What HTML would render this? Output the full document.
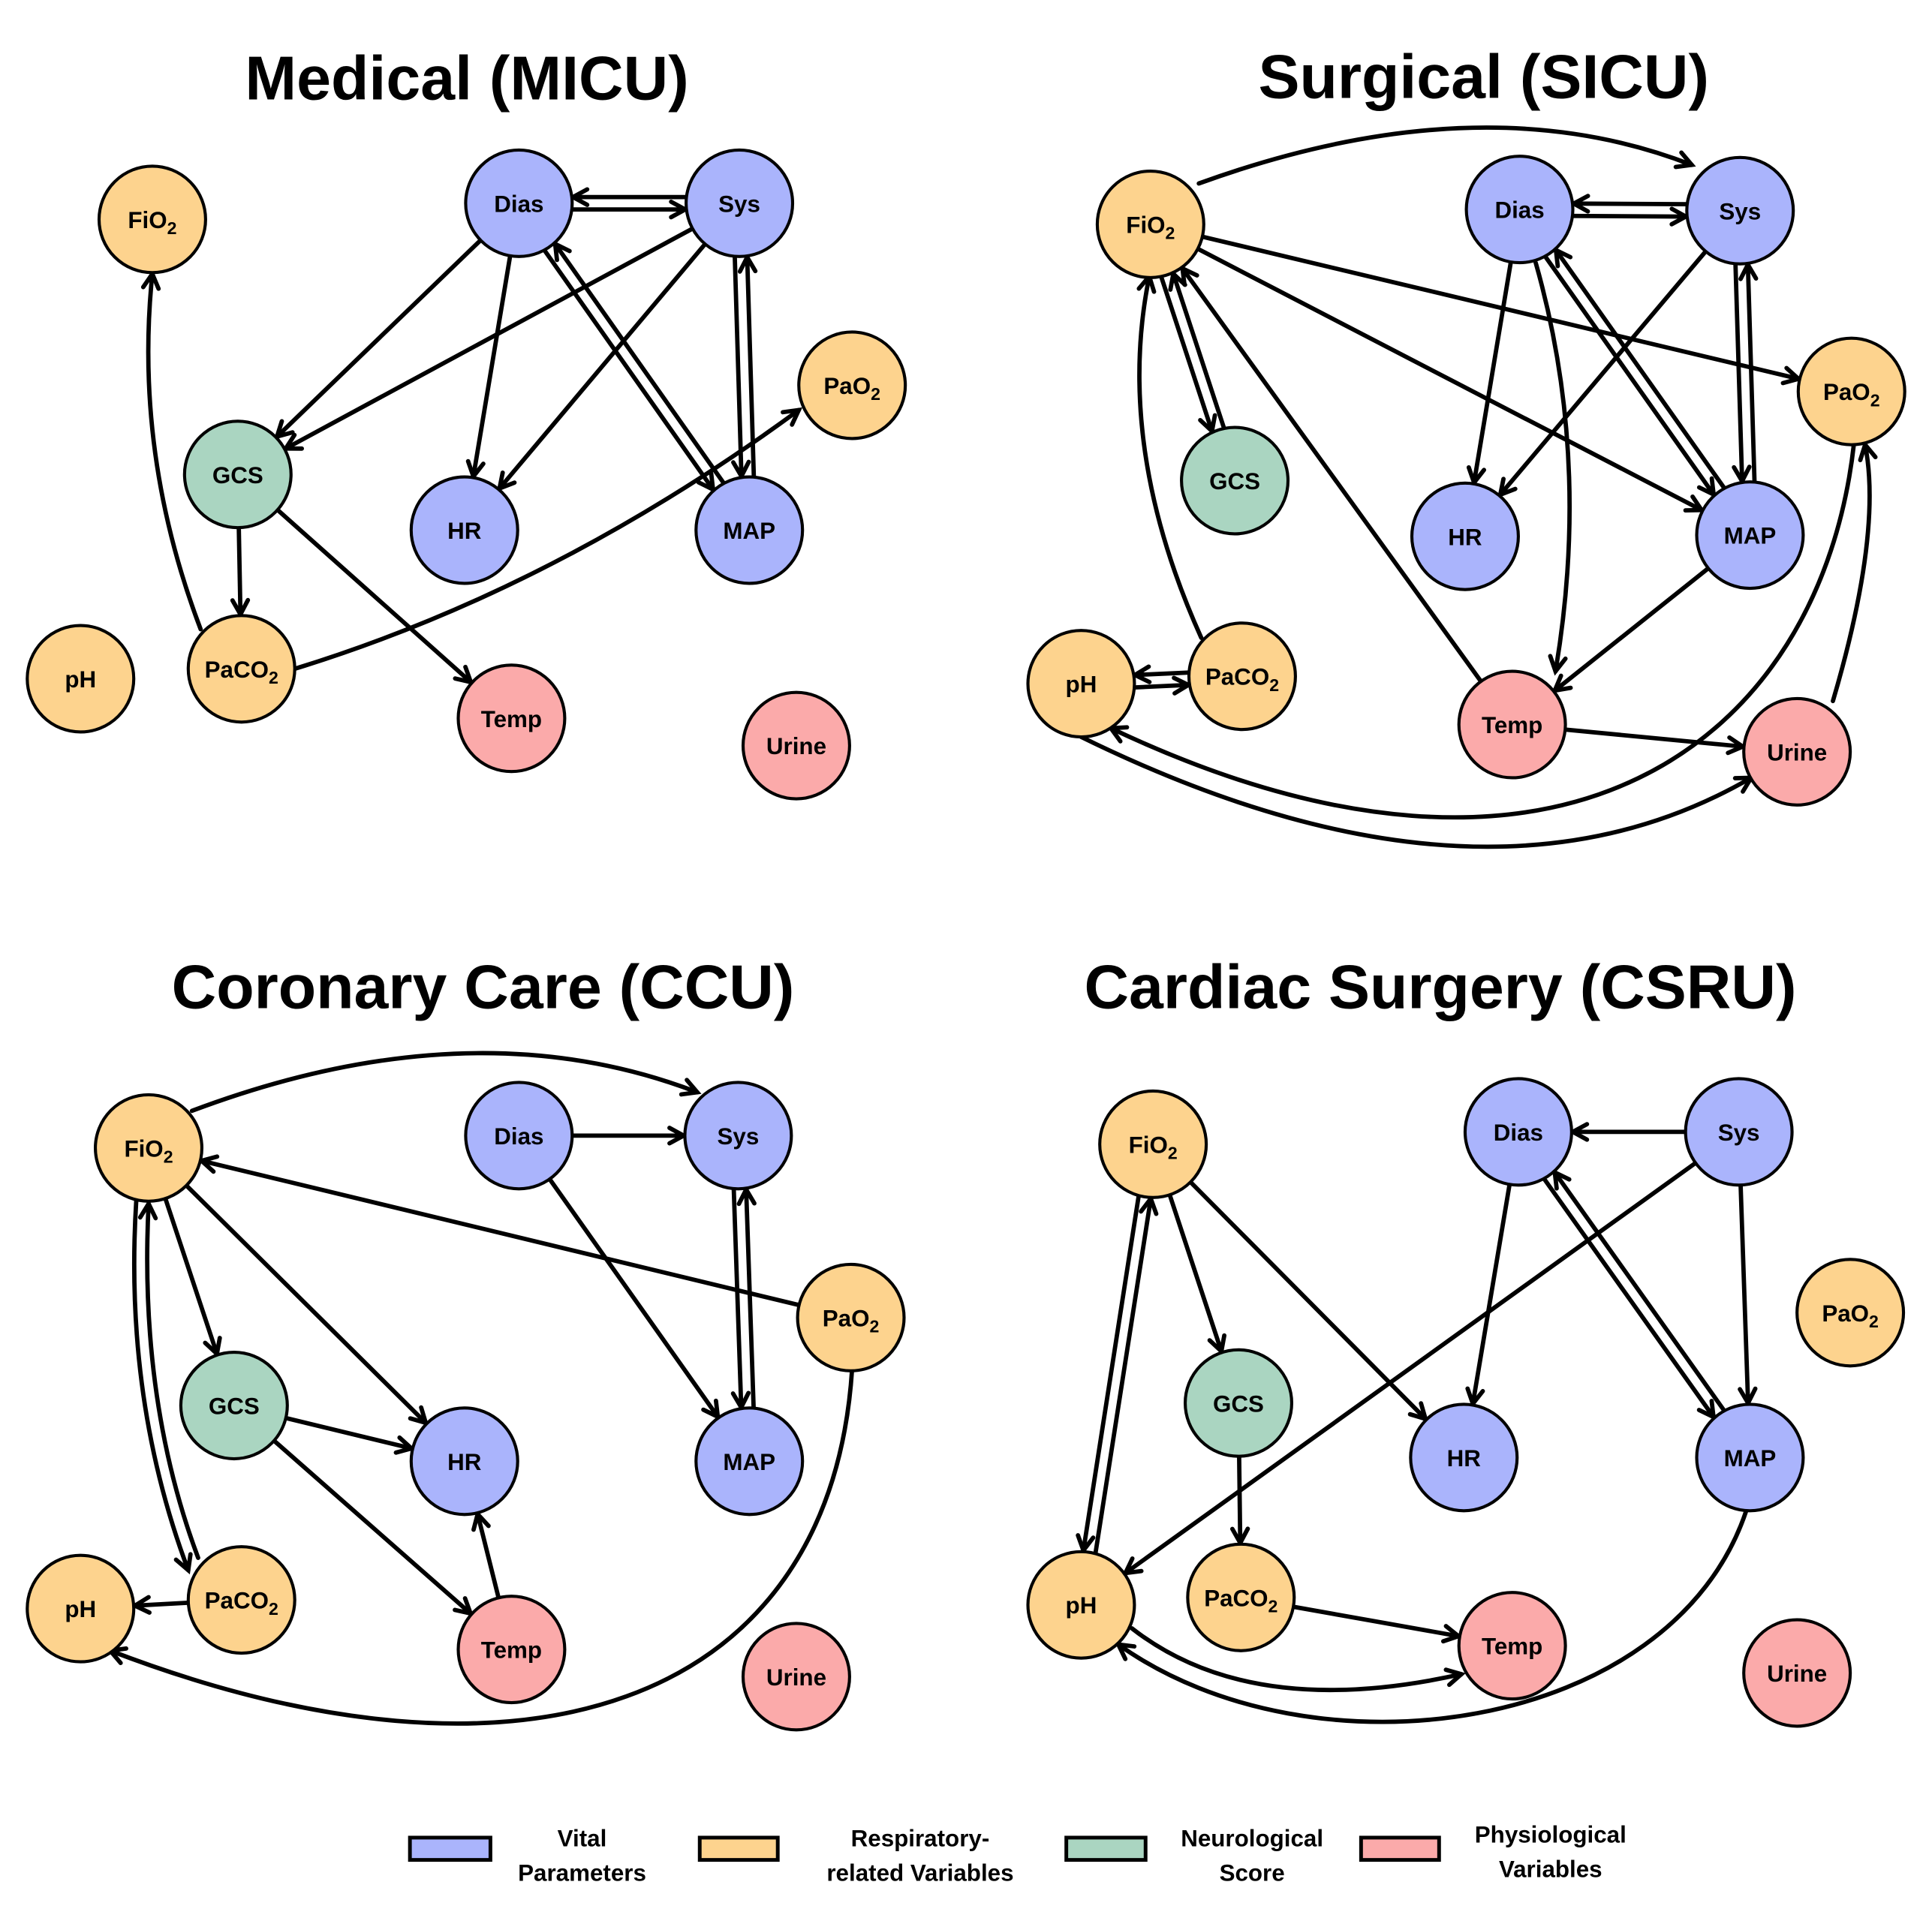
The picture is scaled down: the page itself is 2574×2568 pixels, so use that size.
<!DOCTYPE html>
<html><head><meta charset="utf-8"><style>
html,body{margin:0;padding:0;background:#fff;}
svg{display:block;}
text{font-family:"Liberation Sans",sans-serif;font-weight:bold;fill:#000;}
</style></head><body>
<svg id="s" width="2574" height="2568" viewBox="0 0 1560 1556" xmlns="http://www.w3.org/2000/svg">
<rect width="1560" height="1556" fill="#fff"/>
<g id="edges" stroke="#000" stroke-width="3.5" fill="none" stroke-linecap="round"></g>
<g id="nodes"></g>
<g font-size="50">
<text x="377" y="80" text-anchor="middle">Medical (MICU)</text>
<text x="1198" y="79" text-anchor="middle">Surgical (SICU)</text>
<text x="390" y="814" text-anchor="middle">Coronary Care (CCU)</text>
<text x="1163" y="814" text-anchor="middle">Cardiac Surgery (CSRU)</text>
</g>
<g stroke="#000" stroke-width="3">
<rect x="331" y="1484" width="65" height="18" fill="#aab4fc"/>
<rect x="565" y="1484" width="63" height="18" fill="#fdd38e"/>
<rect x="861" y="1484" width="64" height="18" fill="#aad5c1"/>
<rect x="1099" y="1484" width="63" height="18" fill="#fbaaaa"/>
</g>
<g font-size="19" text-anchor="middle">
<text x="470" y="1491">Vital</text><text x="470" y="1519">Parameters</text>
<text x="743" y="1491">Respiratory-</text><text x="743" y="1519">related Variables</text>
<text x="1011" y="1491">Neurological</text><text x="1011" y="1519">Score</text>
<text x="1252" y="1488">Physiological</text><text x="1252" y="1516">Variables</text>
</g>
</svg>
<script>
var NS="http://www.w3.org/2000/svg",R=43;
var C={b:"#aab4fc",o:"#fdd38e",g:"#aad5c1",p:"#fbaaaa"};
var G=[
 {FiO2:[123,177,'o'],Dias:[419,164,'b'],Sys:[597,164,'b'],PaO2:[688,311,'o'],GCS:[192,383,'g'],HR:[375,428,'b'],MAP:[605,428,'b'],pH:[65,548,'o'],PaCO2:[195,540,'o'],Temp:[413,580,'p'],Urine:[643,602,'p']},
 {FiO2:[929,181,'o'],Dias:[1227,169,'b'],Sys:[1405,170,'b'],PaO2:[1495,316,'o'],GCS:[997,388,'g'],HR:[1183,433,'b'],MAP:[1413,432,'b'],pH:[873,552,'o'],PaCO2:[1003,546,'o'],Temp:[1221,585,'p'],Urine:[1451,607,'p']},
 {FiO2:[120,927,'o'],Dias:[419,917,'b'],Sys:[596,917,'b'],PaO2:[687,1064,'o'],GCS:[189,1135,'g'],HR:[375,1180,'b'],MAP:[605,1180,'b'],pH:[65,1299,'o'],PaCO2:[195,1292,'o'],Temp:[413,1332,'p'],Urine:[643,1354,'p']},
 {FiO2:[931,924,'o'],Dias:[1226,914,'b'],Sys:[1404,914,'b'],PaO2:[1494,1060,'o'],GCS:[1000,1133,'g'],HR:[1182,1177,'b'],MAP:[1413,1177,'b'],pH:[873,1296,'o'],PaCO2:[1002,1290,'o'],Temp:[1221,1329,'p'],Urine:[1451,1351,'p']}
];
var E=document.getElementById('edges'),N=document.getElementById('nodes');
function el(t,a,p){var e=document.createElementNS(NS,t);for(var k in a)e.setAttribute(k,a[k]);(p||E).appendChild(e);return e;}
function head(x,y,dx,dy){var l=Math.hypot(dx,dy);dx/=l;dy/=l;var L=13,a=0.5,c=Math.cos(a),s=Math.sin(a);
 var x1=x-L*(dx*c-dy*s),y1=y-L*(dy*c+dx*s),x2=x-L*(dx*c+dy*s),y2=y-L*(dy*c-dx*s);
 el('path',{d:'M'+x1+','+y1+'L'+x+','+y+'L'+x2+','+y2});}
function line(g,a,b,off){var A=G[g][a],B=G[g][b];var dx=B[0]-A[0],dy=B[1]-A[1],l=Math.hypot(dx,dy),ux=dx/l,uy=dy/l;
 off=off||0;var px=-uy*off,py=ux*off;var r=Math.sqrt(R*R-off*off);
 var x1=A[0]+ux*r+px,y1=A[1]+uy*r+py,x2=B[0]-ux*(r+1)+px,y2=B[1]-uy*(r+1)+py;
 el('path',{d:'M'+x1+','+y1+'L'+x2+','+y2});head(x2,y2,ux,uy);}
function pair(g,a,b){line(g,a,b,5);line(g,b,a,5);}
function path(d,ex,ey,cx,cy){el('path',{d:d});head(ex,ey,ex-cx,ey-cy);}
function q(x1,y1,cx,cy,x2,y2){path('M'+x1+','+y1+'Q'+cx+','+cy+' '+x2+','+y2,x2,y2,cx,cy);}
function c(x1,y1,a,b,cx,cy,x2,y2){path('M'+x1+','+y1+'C'+a+','+b+' '+cx+','+cy+' '+x2+','+y2,x2,y2,cx,cy);}
// MICU
pair(0,'Dias','Sys');line(0,'Dias','GCS');line(0,'Sys','GCS');line(0,'Dias','HR');line(0,'Sys','HR');
pair(0,'Dias','MAP');pair(0,'Sys','MAP');line(0,'GCS','PaCO2');line(0,'GCS','Temp');
q(162,508,108,366,123,221);q(238,540,449,475,645,331);
// SICU
q(968,148,1194,66,1366,133);pair(1,'Dias','Sys');line(1,'FiO2','PaO2');line(1,'FiO2','MAP');pair(1,'FiO2','GCS');
line(1,'Temp','FiO2');q(970,515,900,360,928,223);line(1,'Dias','HR');line(1,'Sys','HR');
q(1240,212,1285,370,1256,542);pair(1,'Dias','MAP');pair(1,'Sys','MAP');line(1,'MAP','Temp');pair(1,'pH','PaCO2');
line(1,'Temp','Urine');q(873,595,1197,754,1414,628);c(1497,358,1470,600,1260,760,897,588);q(1480,566,1520,430,1506,359);
// CCU
q(155,897,381,812,563,882);line(2,'Dias','Sys');line(2,'PaO2','FiO2');line(2,'FiO2','GCS');line(2,'FiO2','HR');
line(2,'GCS','HR');line(2,'GCS','Temp');line(2,'Temp','HR');line(2,'Dias','MAP');pair(2,'Sys','MAP');
q(110,970,100,1130,152,1268);q(160,1258,112,1130,120,972);line(2,'PaCO2','pH');
c(688,1106,670,1380,420,1460,89,1333);
// CSRU
line(3,'Sys','Dias');line(3,'FiO2','GCS');line(3,'FiO2','HR');line(3,'Dias','HR');line(3,'Sys','pH');line(3,'Sys','MAP');
pair(3,'Dias','MAP');pair(3,'FiO2','pH');line(3,'GCS','PaCO2');line(3,'PaCO2','Temp');
q(914,1315,1010,1390,1180,1352);c(1410,1220,1350,1400,1060,1440,903,1328);
// nodes
G.forEach(function(g){for(var k in g){var n=g[k];
 el('circle',{cx:n[0],cy:n[1],r:R,fill:C[n[2]],stroke:'#000','stroke-width':2.5},N);
 var t=el('text',{x:n[0],y:n[1]+7,'text-anchor':'middle','font-size':19},N);
 if(k.slice(-1)=='2'){t.appendChild(document.createTextNode(k.slice(0,-1)));var s=el('tspan',{'font-size':14,dy:5},t);s.textContent='2';}
 else t.textContent=k;}});
</script>
</body></html>
